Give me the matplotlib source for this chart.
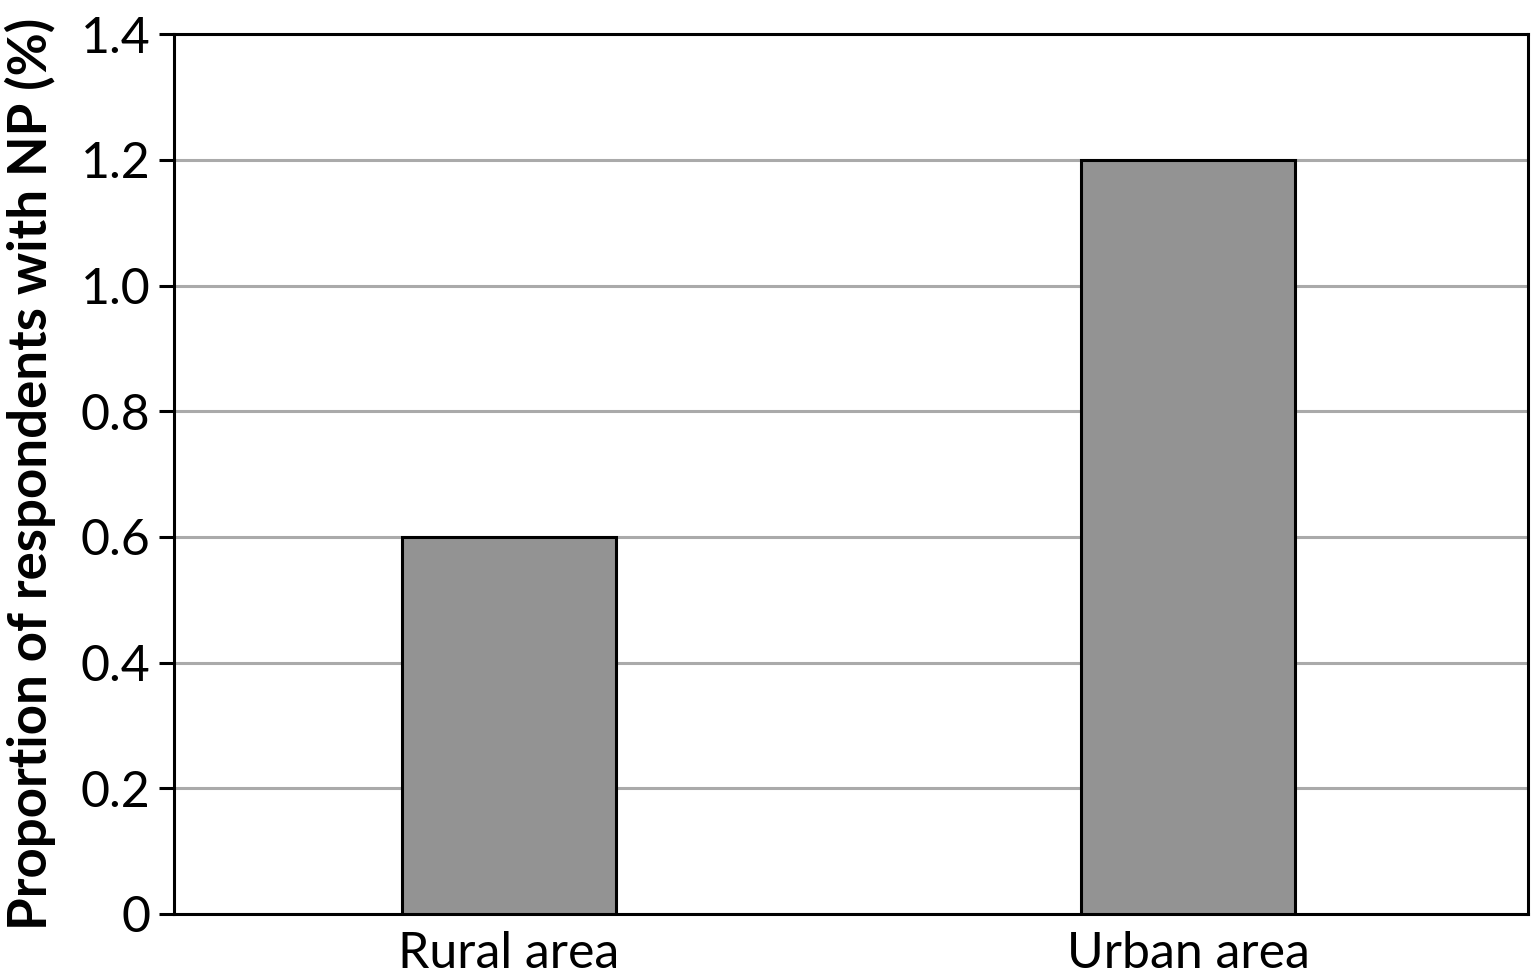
import numpy as np
import matplotlib.pyplot as plt

categories = ['Rural area', 'Urban area']
values = [0.6, 1.2]
yticks = [0, 0.2, 0.4, 0.6, 0.8, 1.0, 1.2, 1.4]
ytick_labels = ['0', '0.2', '0.4', '0.6', '0.8', '1.0', '1.2', '1.4']

plt.rcParams['font.family'] = ['Lato', 'DejaVu Sans']

fig = plt.figure(figsize=(15.31, 9.77), dpi=100)
ax = fig.add_axes([0.1137, 0.0645, 0.8843, 0.9005])

x = np.arange(len(categories))
ax.bar(x, values, width=0.315, color='#939393', edgecolor='black',
       linewidth=2.2, zorder=3)

ax.set_xlim(-0.4934, 1.5006)
ax.set_ylim(0, 1.4)
ax.set_yticks(yticks)
ax.set_yticklabels(ytick_labels)
ax.set_xticks(x)
ax.set_xticklabels(categories)
ax.yaxis.grid(True, color='#aaaaaa', linewidth=2.2, zorder=0)
ax.set_axisbelow(True)

ax.tick_params(axis='y', labelsize=36, length=11, width=2.2, pad=6)
ax.tick_params(axis='x', labelsize=36, length=0, pad=12)
for s in ax.spines.values():
    s.set_linewidth(2.2)

ax.set_ylabel('Proportion of respondents with NP (%)', fontsize=38,
              fontweight='bold', labelpad=18)

fig.savefig('out.png', dpi=100)
